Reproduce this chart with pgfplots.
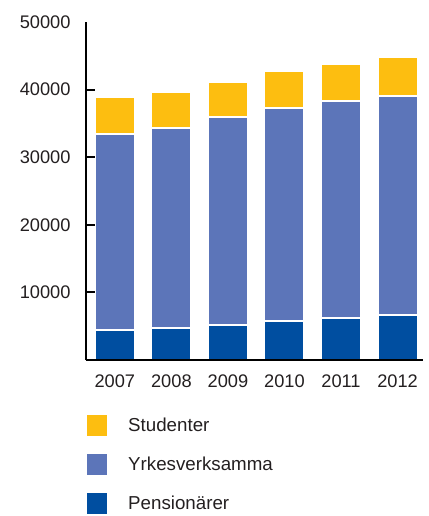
\documentclass[border=0pt]{standalone}
\usepackage{fontspec}
\setmainfont{Liberation Sans}
\usepackage{pgfplots}
\pgfplotsset{compat=1.18}

\definecolor{stud}{RGB}{253,190,16}
\definecolor{yrk}{RGB}{92,117,185}
\definecolor{pens}{RGB}{0,78,160}
\definecolor{txt}{RGB}{35,31,32}

\begin{document}
\begin{tikzpicture}
\begin{axis}[
    scale only axis, width=337bp, height=338bp,
    ybar stacked, bar width=40bp,
    xmin=-0.51, xmax=5.45, ymin=0, ymax=50000,
    axis on top,
    axis x line=bottom, axis y line=left,
    axis line style={-, line width=2.5bp, black},
    xtick=data, xticklabels={2007,2008,2009,2010,2011,2012},
    x tick style={draw=none},
    ytick={10000,20000,30000,40000},
    extra y ticks={50000}, extra y tick style={major tick length=0pt},
    scaled y ticks=false,
    ytick pos=left, tick align=inside, major tick length=9bp,
    y tick style={line width=2bp, black},
    tick label style={font=\fontsize{18.3}{21}\selectfont, text=txt},
    xticklabel style={yshift=-11bp},
    yticklabel style={xshift=-12bp},
    /pgf/number format/assume math mode=true,
    /pgf/number format/1000 sep={},
    every axis plot/.append style={draw=white, line width=2bp},
    legend cell align=left,
    reverse legend,
    legend image code/.code={\fill[#1, draw=none] (0bp,-10.5bp) rectangle (20bp,10.5bp);},
    legend style={at={(0,0)}, anchor=north west, xshift=1bp, yshift=-55bp,
        draw=none, fill=none, inner sep=0pt, row sep=18bp, column sep=21bp,
        nodes={inner sep=0pt}, font=\fontsize{18.8}{22}\selectfont, text=txt},
]
\addplot[fill=pens] coordinates {(0,4370) (1,4770) (2,5220) (3,5750) (4,6150) (5,6630)};
\addplot[fill=yrk] coordinates {(0,29130) (1,29580) (2,30660) (3,31490) (4,32100) (5,32480)};
\addplot[fill=stud] coordinates {(0,5400) (1,5250) (2,5260) (3,5530) (4,5560) (5,5740)};
\legend{Pensionärer,Yrkesverksamma,Studenter}
\end{axis}
\path ([xshift=-86bp,yshift=-156bp]current axis.south west) rectangle ([xshift=6bp,yshift=22bp]current axis.north east);
\end{tikzpicture}
\end{document}
